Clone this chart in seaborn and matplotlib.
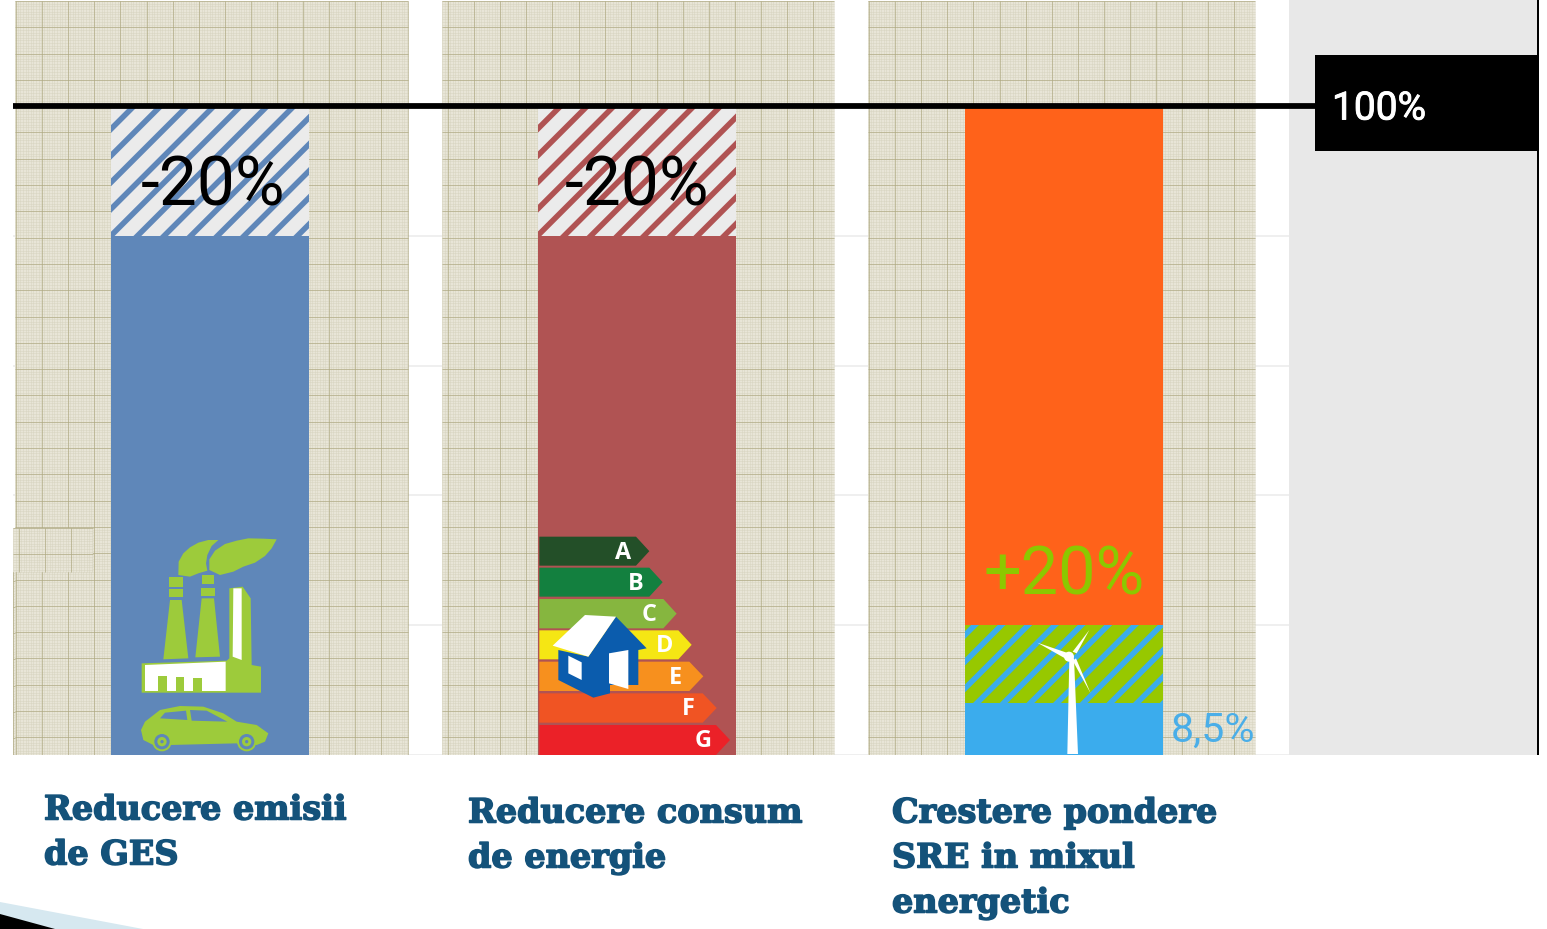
import numpy as np
import seaborn as sns
import matplotlib.pyplot as plt
import matplotlib.patheffects as pe
from matplotlib.patches import Polygon, Circle, Rectangle
from matplotlib.transforms import Affine2D

W, H = 1547, 929

# Data
categories = ["Reducere emisii de GES", "Reducere consum de energie", "Crestere pondere SRE in mixul energetic"]
target_total = [100, 100, 100]
after_target = [80, 80, 20]
current_share = [8.0]
label_lines = [["Reducere emisii", "de GES"], ["Reducere consum", "de energie"],
               ["Crestere pondere", "SRE in mixul", "energetic"]]
delta_labels = ["-20%", "-20%", "+20%"]
top_colors = ["#ebebeb", "#ebebeb", "#ff621a"]
mid_colors = ["#5f87b9", "#b05353", "#97c800"]
sky = "#3baced"
grade_letters = ["A", "B", "C", "D", "E", "F", "G"]
grade_colors = ["#234f28", "#13803f", "#86b63f", "#f5e614", "#f7901e", "#f05423", "#eb2128"]

sns.set_theme(style="white")
plt.rcParams["font.family"] = ["Roboto", "DejaVu Sans"]
plt.rcParams["hatch.linewidth"] = 2.5

# dpi 160 gives the wider hatch spacing of the original
fig = plt.figure(figsize=(W / 160, H / 160), dpi=160)
ax = fig.add_axes([13 / W, (H - 755) / H, 1526 / W, 755 / H])
ax.patch.set_alpha(0)

px = Affine2D().scale(1 / W, -1 / H).translate(0, 1) + fig.transFigure

# Bars, painted tallest first
sns.barplot(x=categories, y=target_total, hue=categories, palette=top_colors, order=categories,
            width=0.464, saturation=1, legend=False, errorbar=None, zorder=3, linewidth=0, ax=ax)
sns.barplot(x=categories, y=after_target, hue=categories, palette=mid_colors, order=categories,
            width=0.464, saturation=1, legend=False, errorbar=None, zorder=3, linewidth=0, ax=ax)
sns.barplot(x=[categories[2]], y=current_share, color=sky, order=categories,
            width=0.464, saturation=1, errorbar=None, zorder=3, linewidth=0, ax=ax)

bars = list(ax.patches)
for i in range(2):
    bars[i].set_hatch("//")
    bars[i].set_edgecolor(mid_colors[i])
bars[5].set_hatch("//")
bars[5].set_edgecolor(sky)

ax.set_xlim(-0.4619, 3.114)
ax.set_ylim(0, 116.33)
ax.set(xlabel="", ylabel="")
ax.set_xticks([])
ax.set_yticks([0, 20, 40, 60, 80, 100])
ax.set_yticklabels([])
ax.tick_params(length=0)
ax.yaxis.grid(True, color="#eeeeee", lw=0.8)
ax.set_axisbelow(True)
sns.despine(ax=ax, left=True, bottom=True)

ax.axhline(100, color="black", lw=2.6, zorder=5)


def rect(x0, y0, x1, y1, color, z=2):
    ax.add_patch(Rectangle((x0, y0), x1 - x0, y1 - y0, fc=color, ec="none", transform=px, zorder=z))


def paper(x0, y0, x1, y1, xstart, ystart, z=2):
    rect(x0, y0, x1, y1, "#e8e5d7", z)
    ax.vlines(np.arange(x0, x1, 2.63), y0, y1, color="#d5d2bd", lw=0.25, alpha=0.8, transform=px, zorder=z + 0.1)
    ax.hlines(np.arange(y0, y1, 2.63), x0, x1, color="#d5d2bd", lw=0.25, alpha=0.8, transform=px, zorder=z + 0.1)
    ax.vlines(np.arange(xstart, x1, 26.1), y0, y1, color="#aca77f", lw=0.4, alpha=0.7, transform=px, zorder=z + 0.2)
    ax.hlines(np.arange(ystart, y1, 26.3), x0, x1, color="#aca77f", lw=0.4, alpha=0.7, transform=px, zorder=z + 0.2)


# Graph paper panels and grey panel
rect(1289, 0, 1537, 755, "#e8e8e8")
paper(15, 1, 408, 755, 16, 1)
paper(442, 1, 834, 755, 448, 1)
paper(868, 1, 1255, 755, 869, 1)
paper(13, 528, 15, 755, 13, 528)
paper(13, 528, 93, 572, 19, 528, 2.5)

rect(1315, 55, 1538, 151, "black", 6)
rect(1537, 0, 1539, 755, "black", 6)


def poly(points, color, ox, oy, z=4):
    pts = [(ox + a / 3, oy + b / 3) for a, b in points]
    ax.add_patch(Polygon(pts, closed=True, fc=color, ec="none", transform=px, zorder=z))


# Factory and car
g = "#9dcb3b"
blue = mid_colors[0]
fx, fy = 100, 520
poly([(235, 165), (236, 125), (250, 100), (270, 82), (295, 68), (325, 60), (355, 60), (335, 78), (322, 105),
      (318, 130), (322, 152), (295, 160), (270, 170)], g, fx, fy)
poly([(328, 150), (328, 118), (345, 92), (375, 72), (410, 62), (445, 55), (490, 56), (530, 58), (515, 85), (495, 108),
      (465, 128), (430, 140), (400, 155), (360, 165)], g, fx, fy)
poly([(208, 170), (248, 170), (248, 200), (208, 200)], g, fx, fy)
poly([(208, 208), (248, 208), (248, 232), (208, 232)], g, fx, fy)
poly([(210, 240), (245, 240), (265, 415), (190, 418)], g, fx, fy)
poly([(305, 165), (342, 165), (342, 193), (305, 193)], g, fx, fy)
poly([(303, 203), (345, 203), (345, 228), (303, 228)], g, fx, fy)
poly([(305, 235), (342, 235), (360, 410), (286, 412)], g, fx, fy)
poly([(388, 205), (428, 200), (452, 235), (455, 435), (483, 440), (483, 518), (125, 518), (125, 430), (380, 422), (388, 415)], g, fx, fy)
poly([(400, 205), (425, 205), (425, 420), (398, 410)], "white", fx, fy, 4.1)
poly([(135, 435), (377, 425), (377, 513), (135, 513)], "white", fx, fy, 4.1)
for d0, d1, dtop in [(173, 200, 467), (227, 252, 470), (280, 307, 475)]:
    poly([(d0, dtop), (d1, dtop), (d1, 513), (d0, 513)], g, fx, fy, 4.2)
poly([(123, 630), (135, 605), (180, 570), (240, 558), (310, 560), (370, 580), (410, 605), (470, 615), (505, 640),
      (495, 665), (470, 675), (410, 670), (210, 675), (160, 675), (130, 660)], g, fx, fy)
poly([(180, 595), (195, 578), (258, 572), (262, 600)], blue, fx, fy, 4.1)
poly([(270, 570), (320, 572), (382, 605), (275, 602)], blue, fx, fy, 4.1)
for cx in (186, 440):
    for r, c in [(29, g), (23, blue), (14, g), (5, blue)]:
        ax.add_patch(Circle((fx + cx / 3, fy + 665 / 3), r / 3, fc=c, ec="none", transform=px, zorder=4.3))

# Energy label arrows
ex, ey = 530, 525
arrow_rows = [(35, 122, 318, 358, 278), (128, 215, 358, 398, 317), (222, 310, 400, 440, 357), (316, 403, 445, 485, 403),
              (410, 498, 478, 520, 435), (505, 593, 518, 560, 475), (600, 690, 558, 600, 520)]
for (y0, y1, xb, xt, xl), c, letter in zip(arrow_rows, grade_colors, grade_letters):
    poly([(28, y0), (xb, y0), (xt, (y0 + y1) / 2), (xb, y1), (28, y1)], c, ex, ey)
    ax.text(ex + xl / 3, ey + (y0 + y1) / 6 + 1.5, letter, color="white", fontsize=10.5, fontweight="bold",
            ha="center", va="center", transform=px, zorder=4.4, family=["Open Sans", "DejaVu Sans"])

# House
hb = "#0b5cad"
poly([(85, 375), (85, 465), (190, 518), (240, 505), (240, 480), (325, 480), (325, 375), (350, 370), (258, 275), (175, 395)], hb, ex, ey, 4.5)
poly([(68, 362), (165, 270), (258, 275), (175, 395)], "white", ex, ey, 4.6)
poly([(115, 392), (155, 412), (155, 465), (115, 445)], "white", ex, ey, 4.6)
poly([(237, 385), (295, 375), (295, 492), (237, 475)], "white", ex, ey, 4.6)

# Wind turbine
tx, ty = 950, 530
poly([(358, 385), (372, 385), (384, 672), (352, 672)], "white", tx, ty, 4.5)
poly([(262, 338), (350, 368), (345, 385)], "white", tx, ty, 4.5)
poly([(418, 300), (380, 370), (368, 365)], "white", tx, ty, 4.5)
poly([(422, 490), (378, 385), (368, 392)], "white", tx, ty, 4.5)
ax.add_patch(Circle((tx + 357 / 3, ty + 380 / 3), 5, fc="white", ec="none", transform=px, zorder=4.5))

# Percent labels
ax.text(213, 187, delta_labels[0], color="black", fontsize=30.5, ha="center", va="center", transform=px, zorder=7)
ax.text(637, 187, delta_labels[1], color="black", fontsize=30.5, ha="center", va="center", transform=px, zorder=7)
ax.text(1064, 577, delta_labels[2], color="#8cc800", fontsize=30, ha="center", va="center", transform=px, zorder=7)
ax.text(1213, 730, "8,5%", color="#4aaee8", fontsize=18.5, ha="center", va="center", transform=px, zorder=7)
ax.text(1379, 109, "100%", color="white", fontsize=17.5, ha="center", va="center", transform=px, zorder=7,
        path_effects=[pe.withStroke(linewidth=0.4, foreground="white")])

# Category labels under the bars
for lines, lx, ly in zip(label_lines, [44, 468, 892], [810, 813, 813]):
    for k, line in enumerate(lines):
        fig.text(lx / W, 1 - (ly + k * 45) / H, line, color="#14527a", fontsize=15.05, fontweight="bold",
                 family=["DejaVu Serif"], ha="left", va="center",
                 path_effects=[pe.withStroke(linewidth=0.7, foreground="#14527a")])

# Corner wedge of the slide
fig.add_artist(Polygon([(0, 902), (143, 929), (0, 929)], fc="#d6e8f0", ec="none", transform=px))
fig.add_artist(Polygon([(0, 914), (55, 929), (0, 929)], fc="black", ec="none", transform=px))

fig.savefig("out.png", dpi=160)
plt.close(fig)
